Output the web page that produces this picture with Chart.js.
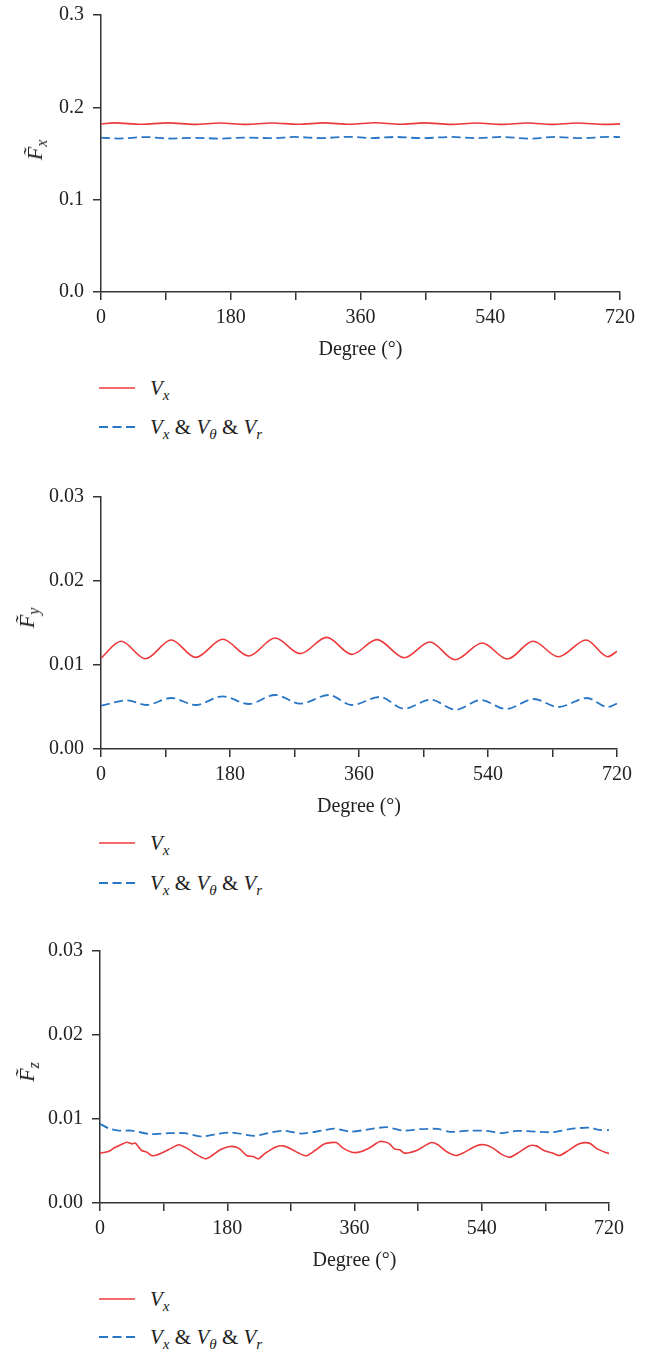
<!DOCTYPE html>
<html>
<head>
<meta charset="utf-8">
<script src="https://cdn.jsdelivr.net/npm/chart.js@4.4.1/dist/chart.umd.min.js"></script>
<style>
  body { margin: 0; background: #fff; width: 651px; height: 1352px; position: relative; overflow: hidden; font-family: 'Liberation Serif', serif; color: #222; }
  canvas { position: absolute; left: 0; }
  .ytitle { position: absolute; font-size: 22px; transform: translate(-50%, -50%) rotate(-90deg); white-space: nowrap; }
  .leg { position: absolute; left: 99px; height: 30px; display: flex; align-items: center; font-size: 21px; white-space: nowrap; }
  .leg svg { margin-right: 15px; }
  sub { font-size: 0.72em; vertical-align: -0.3em; line-height: 0; }
</style>
</head>
<body>
<canvas id="c1" width="651" height="368" style="top:-6px"></canvas>
<canvas id="c2" width="651" height="343" style="top:476px"></canvas>
<canvas id="c3" width="651" height="343" style="top:930px"></canvas>
<script>
// datos (grados, valor)
const xTicks = [0, 180, 360, 540, 720];
const seriesNames = [
    '<i>V</i><sub><i>x</i></sub>',
    '<i>V</i><sub><i>x</i></sub> &amp; <i>V</i><sub><i>θ</i></sub> &amp; <i>V</i><sub><i>r</i></sub>'
];

const fxVxDeg = [0, 19, 56, 93, 129, 165, 201, 237, 273, 310, 345, 380, 415, 449, 485, 521, 556, 592, 626, 660, 700, 720];
const fxVx = [0.1820, 0.1832, 0.1816, 0.1832, 0.1815, 0.1831, 0.1815, 0.1831, 0.1816, 0.1832, 0.1816, 0.1833, 0.1816, 0.1832, 0.1815, 0.1831, 0.1815, 0.1831, 0.1815, 0.1831, 0.1815, 0.1821];
const fxAllDeg = [0, 24, 61, 98, 130, 167, 200, 237, 269, 306, 343, 375, 408, 445, 486, 519, 556, 595, 630, 667, 704, 720];
const fxAll = [0.1672, 0.1662, 0.1678, 0.1662, 0.1670, 0.1661, 0.1673, 0.1666, 0.1679, 0.1667, 0.1681, 0.1667, 0.1679, 0.1666, 0.1679, 0.1667, 0.1679, 0.1661, 0.1679, 0.1666, 0.1680, 0.1678];

const fyVxDeg = [0, 28, 62, 98, 132, 170, 206, 243, 278, 315, 350, 385, 423, 459, 494, 532, 567, 603, 638, 677, 707, 720];
const fyVx = [0.01083, 0.01282, 0.01075, 0.01298, 0.01091, 0.01306, 0.01107, 0.01321, 0.01135, 0.01329, 0.01127, 0.01302, 0.01087, 0.01274, 0.01063, 0.01262, 0.01071, 0.01282, 0.01099, 0.01298, 0.01099, 0.01163];
const fyAllDeg = [0, 37, 63, 98, 132, 170, 206, 243, 278, 318, 350, 389, 423, 460, 495, 530, 565, 604, 638, 678, 707, 720];
const fyAll = [0.00516, 0.00579, 0.00524, 0.00607, 0.00524, 0.00627, 0.00536, 0.00643, 0.0054, 0.00643, 0.00524, 0.00619, 0.0048, 0.00587, 0.00468, 0.00583, 0.00476, 0.00595, 0.005, 0.00607, 0.005, 0.0054];

const fzVxDeg = [0, 12, 21, 31, 38, 45, 50, 59, 66, 74, 87, 101, 111, 118, 127, 134, 149, 158, 170, 184, 196, 208, 217, 224, 234, 248, 259, 271, 281, 292, 304, 318, 334, 344, 358, 370, 382, 396, 408, 417, 424, 431, 448, 459, 469, 478, 490, 504, 516, 532, 544, 556, 567, 580, 593, 607, 617, 628, 640, 650, 664, 678, 692, 704, 718, 720];
const fzVx = [0.00594, 0.00613, 0.0066, 0.007, 0.00724, 0.00704, 0.00713, 0.00625, 0.00606, 0.00562, 0.00594, 0.00653, 0.00693, 0.00673, 0.00633, 0.00589, 0.00526, 0.00562, 0.00633, 0.00673, 0.00653, 0.00562, 0.00553, 0.00526, 0.00594, 0.00665, 0.0068, 0.00641, 0.00594, 0.00562, 0.00625, 0.00704, 0.0072, 0.00653, 0.00601, 0.00613, 0.0066, 0.00732, 0.00713, 0.00641, 0.00633, 0.00594, 0.00625, 0.0068, 0.0072, 0.00693, 0.00613, 0.00565, 0.00606, 0.0068, 0.00693, 0.00653, 0.00585, 0.00546, 0.00606, 0.0068, 0.0068, 0.00625, 0.00594, 0.00565, 0.00633, 0.00704, 0.00713, 0.00641, 0.00594, 0.0059];
const fzAllDeg = [0, 12, 26, 45, 71, 97, 120, 144, 167, 186, 219, 243, 262, 285, 314, 332, 355, 382, 405, 429, 453, 478, 495, 523, 547, 568, 589, 617, 640, 664, 692, 706, 720];
const fzAll = [0.00942, 0.0089, 0.00862, 0.00862, 0.0082, 0.00831, 0.00831, 0.00791, 0.00823, 0.00839, 0.008, 0.00843, 0.00859, 0.00827, 0.00862, 0.00886, 0.0085, 0.00879, 0.00903, 0.00862, 0.00879, 0.00882, 0.00847, 0.00862, 0.00859, 0.00831, 0.00859, 0.0085, 0.00843, 0.00879, 0.00898, 0.0087, 0.00867];

const rojo = 'rgb(236,58,60)';
const azul = 'rgb(42,118,198)';
const ejeColor = '#333';
const guion = [9, 4.5];

function puntos(grados, valores) {
    return grados.map((g, i) => ({ x: g, y: valores[i] }));
}

function crearGrafica(id, cfg) {
    const ctx = document.getElementById(id);
    return new Chart(ctx, {
        type: 'line',
        data: {
            datasets: [{
                label: 'Vx',
                data: puntos(cfg.deg1, cfg.val1),
                borderColor: rojo,
                borderWidth: 1.6,
                pointRadius: 0,
                tension: cfg.tension,
                cubicInterpolationMode: cfg.monotone ? 'monotone' : 'default'
            }, {
                label: 'Vx & Vθ & Vr',
                data: puntos(cfg.deg2, cfg.val2),
                borderColor: azul,
                borderWidth: 1.8,
                borderDash: guion,
                pointRadius: 0,
                tension: cfg.tension,
                cubicInterpolationMode: cfg.monotone ? 'monotone' : 'default'
            }]
        },
        options: {
            responsive: false,
            animation: false,
            layout: { padding: { top: cfg.top, right: cfg.right, left: 0, bottom: 0 } },
            plugins: { legend: { display: false }, tooltip: { enabled: false } },
            scales: {
                x: {
                    type: 'linear',
                    min: 0,
                    max: 720,
                    afterFit: (s) => { s.height = 70; },
                    afterBuildTicks: (s) => { s.ticks = [0, 90, 180, 270, 360, 450, 540, 630, 720].map(v => ({ value: v })); },
                    ticks: {
                        autoSkip: false,
                        maxRotation: 0,
                        padding: 6,
                        color: '#222',
                        font: { family: 'Liberation Serif', size: 20 },
                        callback: (v) => xTicks.includes(v) ? String(v) : ''
                    },
                    grid: { drawOnChartArea: false, drawTicks: true, tickLength: 8, color: ejeColor, lineWidth: 1.5 },
                    border: { display: true, color: ejeColor, width: 1.5 },
                    title: {
                        display: true,
                        text: 'Degree (°)',
                        color: '#222',
                        padding: { top: 0, bottom: 0 },
                        font: { family: 'Liberation Serif', size: 20 }
                    }
                },
                y: {
                    min: 0,
                    max: cfg.yMax,
                    afterFit: (s) => { s.width = cfg.left; },
                    ticks: {
                        stepSize: cfg.yStep,
                        padding: 9,
                        color: '#222',
                        font: { family: 'Liberation Serif', size: 20 },
                        callback: (v) => v.toFixed(cfg.dec)
                    },
                    grid: { drawOnChartArea: false, drawTicks: true, tickLength: 8, color: ejeColor, lineWidth: 1.5 },
                    border: { display: true, color: ejeColor, width: 1.5 }
                }
            }
        }
    });
}

function tituloY(html, x, y) {
    const d = document.createElement('div');
    d.className = 'ytitle';
    d.style.left = x + 'px';
    d.style.top = y + 'px';
    d.innerHTML = html;
    document.body.appendChild(d);
}

function leyenda(yRojo, yAzul) {
    [[yRojo, rojo, null, 1.6], [yAzul, azul, guion, 1.8]].forEach(([y, color, dash, w], i) => {
        const fila = document.createElement('div');
        fila.className = 'leg';
        fila.style.top = (y - 15) + 'px';
        const da = dash ? `stroke-dasharray="${dash.join(' ')}"` : '';
        fila.innerHTML = `<svg width="36" height="4"><line x1="0" y1="2" x2="36" y2="2" stroke="${color}" stroke-width="${w}" ${da}/></svg><span>${seriesNames[i]}</span>`;
        document.body.appendChild(fila);
    });
}

crearGrafica('c1', { deg1: fxVxDeg, val1: fxVx, deg2: fxAllDeg, val2: fxAll, yMax: 0.3, yStep: 0.1, dec: 1, top: 21, right: 31, left: 101, tension: 0.4, monotone: true });
crearGrafica('c2', { deg1: fyVxDeg, val1: fyVx, deg2: fyAllDeg, val2: fyAll, yMax: 0.03, yStep: 0.01, dec: 2, top: 21, right: 34, left: 101, tension: 0.4, monotone: true });
crearGrafica('c3', { deg1: fzVxDeg, val1: fzVx, deg2: fzAllDeg, val2: fzAll, yMax: 0.03, yStep: 0.01, dec: 2, top: 21, right: 42, left: 100, tension: 0.25, monotone: false });

tituloY('<i>F&#771;</i><sub><i>x</i></sub>', 35, 150);
tituloY('<i>F&#771;</i><sub><i>y</i></sub>', 27, 618);
tituloY('<i>F&#771;</i><sub><i>z</i></sub>', 27, 1072);

leyenda(388, 427);
leyenda(843, 883);
leyenda(1299, 1337);
</script>
</body>
</html>
